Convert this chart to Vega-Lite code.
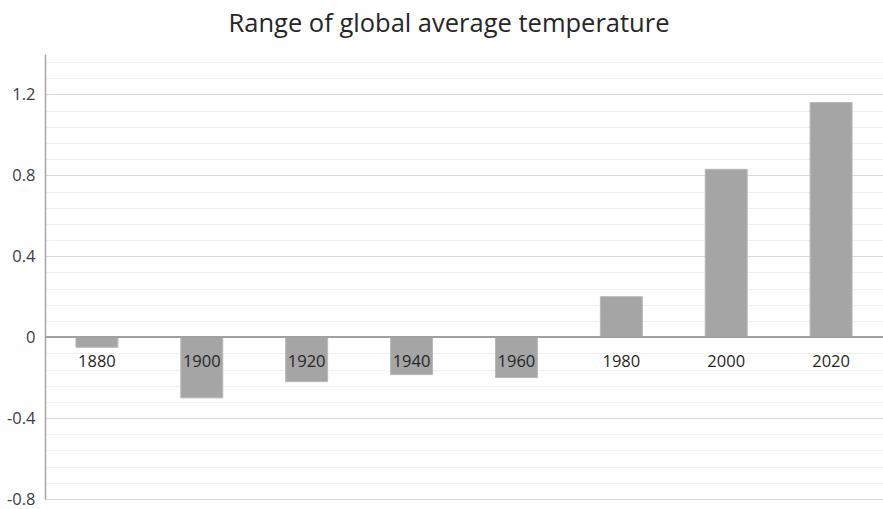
{
  "$schema": "https://vega.github.io/schema/vega-lite/v6.json",
  "autosize": "none",
  "width": 838,
  "height": 445,
  "padding": {"left": 45, "top": 54, "right": 0, "bottom": 10},
  "background": "white",
  "title": {
    "text": "Range of global average temperature",
    "font": "Open Sans",
    "fontSize": 25.5,
    "fontWeight": "normal",
    "color": "#262626",
    "anchor": "middle",
    "dx": -15,
    "offset": 17
  },
  "config": {
    "view": {"stroke": null},
    "axis": {"labelFont": "Open Sans", "titleFont": "Open Sans"}
  },
  "data": {
    "values": [
      {"year": "1880", "value": -0.05},
      {"year": "1900", "value": -0.3},
      {"year": "1920", "value": -0.22},
      {"year": "1940", "value": -0.185},
      {"year": "1960", "value": -0.2},
      {"year": "1980", "value": 0.2},
      {"year": "2000", "value": 0.83},
      {"year": "2020", "value": 1.16}
    ]
  },
  "encoding": {
    "x": {
      "field": "year",
      "type": "nominal",
      "sort": null,
      "scale": {"paddingInner": 0.6, "paddingOuter": 0.295},
      "axis": null
    }
  },
  "layer": [
    {
      "mark": {"type": "rule", "opacity": 0},
      "encoding": {
        "y": {
          "datum": 0,
          "type": "quantitative",
          "scale": {"domain": [-0.8, 1.4], "nice": false, "zero": false},
          "axis": {
            "orient": "left",
            "values": [-0.8, -0.72, -0.64, -0.56, -0.48, -0.4, -0.32, -0.24, -0.16, -0.08, 0, 0.08, 0.16, 0.24, 0.32, 0.4, 0.48, 0.56, 0.64, 0.72, 0.8, 0.88, 0.96, 1.04, 1.12, 1.2, 1.28, 1.36],
            "labels": false,
            "ticks": false,
            "domain": false,
            "grid": true,
            "gridColor": "#f0f0f0",
            "gridWidth": 1,
            "title": null
          }
        }
      }
    },
    {
      "mark": {"type": "bar", "color": "#a5a5a5", "stroke": "#b8b8b8", "strokeWidth": 1},
      "encoding": {
        "y": {
          "field": "value",
          "type": "quantitative",
          "scale": {"domain": [-0.8, 1.4], "nice": false, "zero": false},
          "axis": {
            "orient": "left",
            "values": [-0.8, -0.4, 0, 0.4, 0.8, 1.2],
            "labelExpr": "datum.value == 0 ? '0' : (datum.value < 0 ? '-' + format(-datum.value, '.1f') : format(datum.value, '.1f'))",
            "labelFontSize": 16.5,
            "labelColor": "#404040",
            "labelPadding": 10,
            "ticks": false,
            "domain": true,
            "domainColor": "#a6a6a6",
            "domainWidth": 1.5,
            "grid": true,
            "gridColor": "#d9d9d9",
            "gridWidth": 1,
            "title": null
          }
        }
      }
    },
    {
      "mark": {"type": "rule", "color": "#a0a0a0", "strokeWidth": 1.2},
      "encoding": {
        "x": {"value": 0},
        "x2": {"value": 838},
        "y": {"datum": 0, "type": "quantitative", "axis": null}
      }
    },
    {
      "mark": {"type": "text", "font": "Open Sans", "fontSize": 16.5, "color": "#262626", "baseline": "middle", "dy": 25},
      "encoding": {
        "text": {"field": "year"},
        "y": {"datum": 0, "type": "quantitative", "axis": null}
      }
    }
  ],
  "resolve": {"axis": {"y": "independent"}}
}
